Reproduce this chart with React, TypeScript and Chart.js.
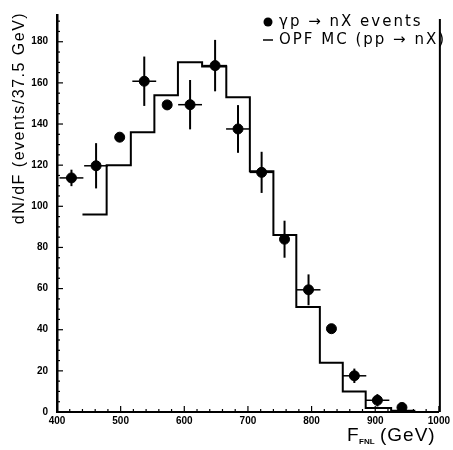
import React, { useEffect, useRef } from "react";
import { Chart, registerables } from "chart.js";
Chart.register(...registerables);

// Measured data points (γp → nX events)
const dataE = [422.7, 461.4, 498.5, 537.1, 573.1, 609.1, 648.4, 684.4, 721.5, 757.5, 795.2, 831.2, 867.2, 903.4, 942];
const dataN = [113.8, 119.7, 133.6, 160.8, 149.3, 149.4, 168.4, 137.6, 116.5, 84, 59.4, 40.5, 17.6, 5.7, 2.2];
const dataErrN = [4, 11, 0, 12, 0, 12, 12.5, 11.6, 10, 9, 7.5, 0, 3.5, 3, 0];
const dataErrE = [18.75, 18.75, 0, 18.75, 0, 18.75, 18.75, 18.75, 18.75, 0, 18.75, 0, 18.75, 18.75, 0];

// OPF MC histogram (bin edges and contents)
const mcEdges = [440, 478, 516, 553, 590, 628, 666, 703, 740, 776, 813, 849, 885, 925, 963];
const mcN = [96, 120, 136, 154, 170, 168, 153, 117, 86, 51, 24, 10, 2, 0.6];

const xTicks = [400, 500, 600, 700, 800, 900, 1000];
const yTicks = [0, 20, 40, 60, 80, 100, 120, 140, 160, 180];

const legendData = "γp → nX events";
const legendMC = "OPF MC (pp → nX)";
const yTitle = "dN/dF (events/37.5 GeV)";

const decorPlugin = {
  id: "decor",
  afterDatasetsDraw(chart: any) {
    const ctx = chart.ctx;
    const xs = chart.scales.x;
    const ys = chart.scales.y;
    const area = chart.chartArea;
    ctx.save();
    ctx.strokeStyle = "#000";
    ctx.fillStyle = "#000";
    // error bars
    for (let i = 0; i < dataE.length; i++) {
      const px = xs.getPixelForValue(dataE[i]);
      const py = ys.getPixelForValue(dataN[i]);
      if (dataErrN[i] > 0) {
        ctx.lineWidth = 2;
        ctx.beginPath();
        ctx.moveTo(px, ys.getPixelForValue(dataN[i] - dataErrN[i]));
        ctx.lineTo(px, ys.getPixelForValue(dataN[i] + dataErrN[i]));
        ctx.stroke();
      }
      if (dataErrE[i] > 0) {
        ctx.lineWidth = 1.5;
        ctx.beginPath();
        ctx.moveTo(xs.getPixelForValue(dataE[i] - dataErrE[i]), py);
        ctx.lineTo(xs.getPixelForValue(dataE[i] + dataErrE[i]), py);
        ctx.stroke();
      }
    }
    // inward ticks
    ctx.lineWidth = 1.2;
    for (let v = 400; v <= 1000; v += 20) {
      const px = xs.getPixelForValue(v);
      const len = v % 100 === 0 ? 6 : 3;
      ctx.beginPath();
      ctx.moveTo(px, area.bottom);
      ctx.lineTo(px, area.bottom - len);
      ctx.stroke();
    }
    for (let v = 0; v <= 190; v += 5) {
      const py = ys.getPixelForValue(v);
      const len = v % 20 === 0 ? 6 : 3;
      ctx.beginPath();
      ctx.moveTo(area.left, py);
      ctx.lineTo(area.left + len, py);
      ctx.stroke();
    }
    // right frame
    ctx.lineWidth = 2;
    ctx.beginPath();
    ctx.moveTo(area.right + 1, area.top + 4);
    ctx.lineTo(area.right + 1, area.bottom);
    ctx.stroke();
    ctx.restore();
  },
  afterDraw(chart: any) {
    const ctx = chart.ctx;
    ctx.save();
    ctx.fillStyle = "#000";
    ctx.strokeStyle = "#000";
    // legend
    ctx.font = "15px 'DejaVu Sans'";
    (ctx as any).letterSpacing = "2px";
    ctx.textBaseline = "middle";
    ctx.textAlign = "left";
    ctx.beginPath();
    ctx.arc(268, 22, 4.5, 0, Math.PI * 2);
    ctx.fill();
    ctx.fillText(legendData, 279, 22);
    ctx.lineWidth = 1.5;
    ctx.beginPath();
    ctx.moveTo(263, 40);
    ctx.lineTo(273, 40);
    ctx.stroke();
    ctx.fillText(legendMC, 279, 40);
    // y title
    ctx.save();
    ctx.translate(20, 118);
    ctx.rotate(-Math.PI / 2);
    ctx.textAlign = "center";
    ctx.font = "16px 'Liberation Sans'";
    (ctx as any).letterSpacing = "1.5px";
    ctx.fillText(yTitle, 0, 0);
    ctx.restore();
    // x title
    (ctx as any).letterSpacing = "0px";
    ctx.textBaseline = "alphabetic";
    ctx.font = "19px 'Liberation Sans'";
    ctx.fillText("F", 347, 441);
    ctx.font = "bold 8px 'Liberation Sans'";
    ctx.fillText("FNL", 359, 444);
    ctx.font = "19px 'Liberation Sans'";
    (ctx as any).letterSpacing = "1px";
    ctx.fillText("(GeV)", 380, 441);
    ctx.restore();
  },
};

export default function App() {
  const ref = useRef<HTMLCanvasElement>(null);
  useEffect(() => {
    if (!ref.current) return;
    const mcPoints = mcEdges.map((e, i) => ({ x: e, y: mcN[Math.min(i, mcN.length - 1)] }));
    const pts = dataE.map((e, i) => ({ x: e, y: dataN[i] }));
    const chart = new Chart(ref.current, {
      type: "scatter",
      data: {
        datasets: [
          {
            type: "line",
            label: legendMC,
            data: mcPoints,
            stepped: "before",
            borderColor: "#000",
            borderWidth: 2,
            pointRadius: 0,
            fill: false,
            showLine: true,
          } as any,
          {
            label: legendData,
            data: pts,
            backgroundColor: "#000",
            borderColor: "#000",
            pointRadius: 5,
            pointStyle: "circle",
          },
        ],
      },
      options: {
        animation: false,
        responsive: false,
        layout: { padding: { top: 5, right: 8, left: 0, bottom: 0 } },
        plugins: { legend: { display: false }, tooltip: { enabled: false } },
        scales: {
          x: {
            type: "linear",
            min: 400,
            max: 1000,
            afterBuildTicks: (s: any) => { s.ticks = xTicks.map((v) => ({ value: v })); },
            afterFit: (s: any) => { s.height = 38; },
            ticks: {
              color: "#000",
              padding: 3,
              maxRotation: 0,
              callback: (v: any) => String(v),
              font: { family: "'Liberation Sans'", weight: "bold", size: 10 },
            },
            grid: { display: false, drawTicks: false },
            border: { display: true, color: "#000", width: 2 },
          },
          y: {
            type: "linear",
            min: 0,
            max: 193,
            afterBuildTicks: (s: any) => { s.ticks = yTicks.map((v) => ({ value: v })); },
            afterFit: (s: any) => { s.width = 57; },
            ticks: {
              color: "#000",
              padding: 9,
              callback: (v: any) => String(v),
              font: { family: "'Liberation Sans'", weight: "bold", size: 10 },
            },
            grid: { display: false, drawTicks: false },
            border: { display: true, color: "#000", width: 2.5 },
          },
        },
      },
      plugins: [decorPlugin],
    });
    return () => chart.destroy();
  }, []);
  return (
    <div style={{ position: "absolute", left: 0, top: 0, width: 453, height: 450, background: "#fff" }}>
      <canvas ref={ref} width={453} height={450} style={{ display: "block" }} />
    </div>
  );
}
